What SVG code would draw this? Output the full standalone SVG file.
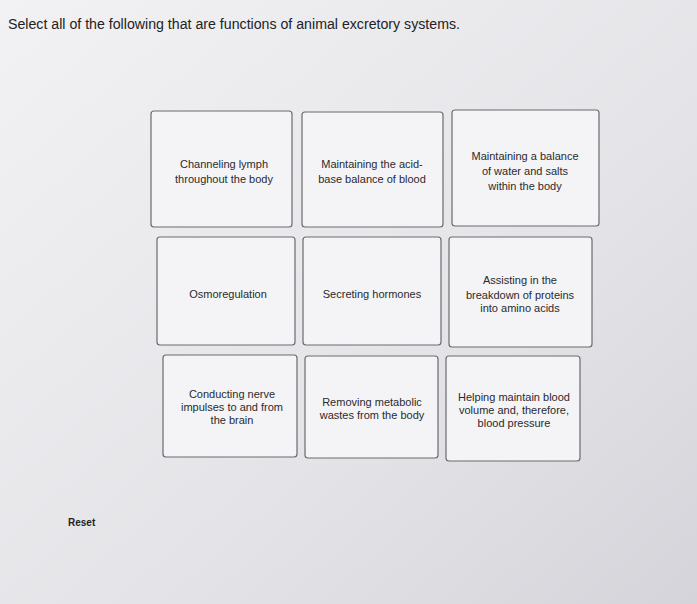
<svg xmlns="http://www.w3.org/2000/svg" width="697" height="604" viewBox="0 0 697 604">
<defs>
<linearGradient id="bg" x1="0" y1="0" x2="1" y2="1">
<stop offset="0" stop-color="#f2f2f4"/><stop offset="0.6" stop-color="#e4e4e8"/><stop offset="1" stop-color="#d4d4da"/>
</linearGradient>
</defs>
<style>
.b{fill:#f4f4f6;stroke:#6a6a70;stroke-width:1.2}
.t{font-family:"Liberation Sans",Arial,sans-serif;font-size:11px;fill:#2a2a2e;text-anchor:middle}
</style>
<rect width="697" height="604" fill="url(#bg)"/>
<text x="8" y="29" font-family="Liberation Sans,Arial,sans-serif" font-size="14" fill="#222" textLength="452" lengthAdjust="spacingAndGlyphs">Select all of the following that are functions of animal excretory systems.</text>
<g id="n1"><rect class="b" x="151" y="111" width="141" height="116" rx="3"/><text class="t" x="224" y="168">Channeling lymph</text><text class="t" x="224" y="183">throughout the body</text></g>
<g id="n2"><rect class="b" x="302" y="112" width="141" height="115" rx="3"/><text class="t" x="372" y="168">Maintaining the acid-</text><text class="t" x="372" y="183">base balance of blood</text></g>
<g id="n3"><rect class="b" x="452" y="110" width="147" height="116" rx="3"/><text class="t" x="525" y="160">Maintaining a balance</text><text class="t" x="525" y="175">of water and salts</text><text class="t" x="525" y="190">within the body</text></g>
<g id="n4"><rect class="b" x="157" y="237" width="138" height="108" rx="3"/><text class="t" x="228" y="298">Osmoregulation</text></g>
<g id="n5"><rect class="b" x="303" y="237" width="138" height="108" rx="3"/><text class="t" x="372" y="298">Secreting hormones</text></g>
<g id="n6"><rect class="b" x="449" y="237" width="143" height="110" rx="3"/><text class="t" x="520" y="284">Assisting in the</text><text class="t" x="520" y="299">breakdown of proteins</text><text class="t" x="520" y="312">into amino acids</text></g>
<g id="n7"><rect class="b" x="163" y="355" width="134" height="102" rx="3"/><text class="t" x="232" y="398">Conducting nerve</text><text class="t" x="232" y="411">impulses to and from</text><text class="t" x="232" y="424">the brain</text></g>
<g id="n8"><rect class="b" x="305" y="356" width="133" height="102" rx="3"/><text class="t" x="372" y="406">Removing metabolic</text><text class="t" x="372" y="419">wastes from the body</text></g>
<g id="n9"><rect class="b" x="446" y="356" width="134" height="105" rx="3"/><text class="t" x="514" y="401">Helping maintain blood</text><text class="t" x="514" y="414">volume and, therefore,</text><text class="t" x="514" y="427">blood pressure</text></g>
<g id="connectors"/>
<text x="68" y="526" font-family="Liberation Sans,Arial,sans-serif" font-size="10" font-weight="bold" fill="#222">Reset</text>
</svg>
